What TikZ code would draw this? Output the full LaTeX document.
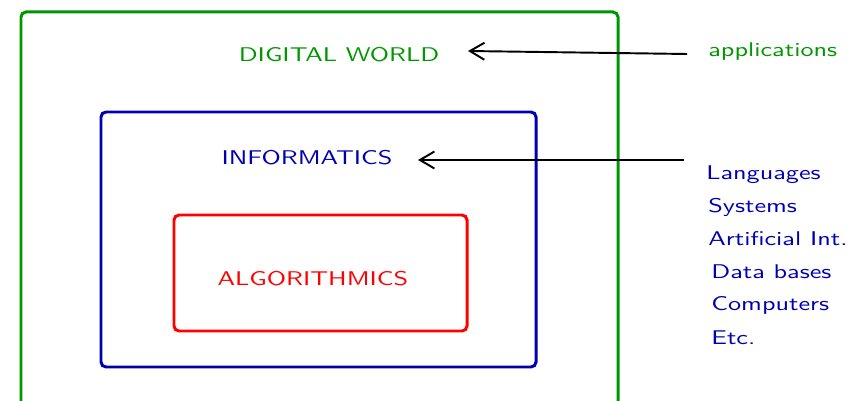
\documentclass[tikz,border=0pt]{standalone}
\usepackage{fontspec}
\usepackage{tikz}
\usetikzlibrary{arrows.meta}
\newfontfamily\widesansfont{lmsans10-regular.otf}[FakeStretch=1.32]
\definecolor{worldgreen}{RGB}{0,150,0}
\definecolor{infoblue}{RGB}{0,0,175}
\definecolor{algored}{RGB}{255,0,0}
\tikzset{
  box/.style={line width=1.7pt, rounded corners=0.1cm},
  title/.style={font=\widesansfont\fontsize{11.3}{14}\selectfont},
  item/.style={font=\widesansfont\fontsize{11.3}{14}\selectfont, text=infoblue, anchor=west, inner sep=0pt},
  pointer/.style={line width=1.1pt, -{Straight Barb[length=2.9mm, width=3.4mm]}}
}
\begin{document}
\begin{tikzpicture}[x=0.02cm, y=-0.02cm]
    \useasboundingbox (0,0) rectangle (857,401);
    \clip (0,0) rectangle (857,401);

                \draw[box, worldgreen] (21,12) rectangle (618,430);
                \draw[box, infoblue] (101,112) rectangle (536,367);
                \draw[box, algored] (174,215) rectangle (467,331);

                \node[title, text=worldgreen] (W) at (339,55) {DIGITAL WORLD};
                \node[title, text=infoblue] (I) at (307,158) {INFORMATICS};
                \node[title, text=algored] (A) at (313,279) {ALGORITHMICS};

                \node[item, text=worldgreen] (app) at (708,52) {applications};
                \node[item] (l1) at (706,175) {Languages};
                \node[item] (l2) at (708,207) {Systems};
                \node[item] (l3) at (708,239) {Artificial Int.};
                \node[item] (l4) at (711,272) {Data bases};
                \node[item] (l5) at (711,305) {Computers};
                \node[item] (l6) at (711,338) {Etc.};

                \coordinate (appS) at (687,54);
                \coordinate (appE) at (468,51);
                \coordinate (infS) at (684,160);
                \coordinate (infE) at (418,160);

                \draw[pointer] (appS) -- (appE);
                \draw[pointer] (infS) -- (infE);

            \end{tikzpicture}
\end{document}
